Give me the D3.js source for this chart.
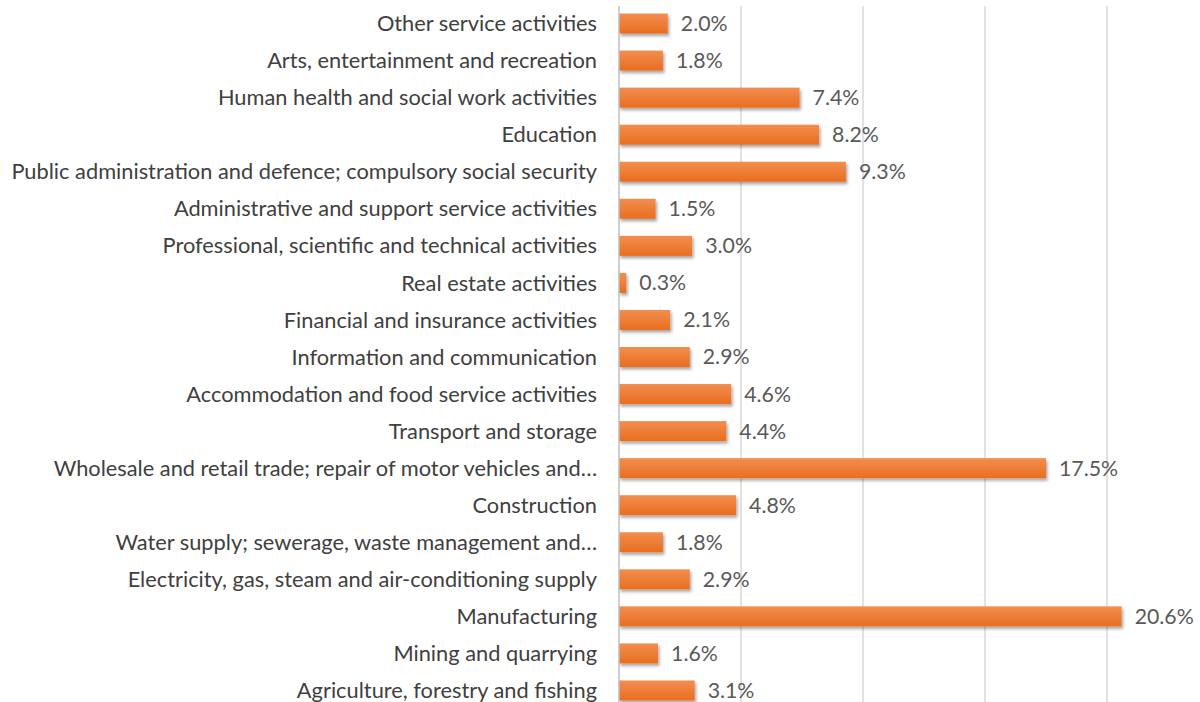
<!DOCTYPE html>
<html>
<head>
<meta charset="utf-8">
<script src="https://cdn.jsdelivr.net/npm/d3@7"></script>
<style>
  body { margin: 0; background: #fff; }
  text { font-family: Lato, "Liberation Sans", sans-serif; }
</style>
</head>
<body>
<div id="chart"></div>
<script>
// categories from top to bottom as shown
var categories = [
  "Other service activities",
  "Arts, entertainment and recreation",
  "Human health and social work activities",
  "Education",
  "Public administration and defence; compulsory social security",
  "Administrative and support service activities",
  "Professional, scientific and technical activities",
  "Real estate activities",
  "Financial and insurance activities",
  "Information and communication",
  "Accommodation and food service activities",
  "Transport and storage",
  "Wholesale and retail trade; repair of motor vehicles and\u2026",
  "Construction",
  "Water supply; sewerage, waste management and\u2026",
  "Electricity, gas, steam and air-conditioning supply",
  "Manufacturing",
  "Mining and quarrying",
  "Agriculture, forestry and fishing"
];
var shares = [2.0, 1.8, 7.4, 8.2, 9.3, 1.5, 3.0, 0.3, 2.1, 2.9, 4.6, 4.4, 17.5, 4.8, 1.8, 2.9, 20.6, 1.6, 3.1];
var gridTicks = [0, 5, 10, 15, 20, 25];

var width = 1200, height = 702;
var margin = { top: 5, bottom: -7, left: 619, right: 0 };

var data = categories.map((c, i) => ({ label: c, value: shares[i] }));

var svg = d3.select("#chart").append("svg")
  .attr("width", width)
  .attr("height", height);

var defs = svg.append("defs");
var grad = defs.append("linearGradient")
  .attr("id", "barGrad")
  .attr("x1", 0).attr("y1", 0).attr("x2", 0).attr("y2", 1);
grad.append("stop").attr("offset", "0%").attr("stop-color", "#f28e4f");
grad.append("stop").attr("offset", "100%").attr("stop-color", "#e96d1f");

var shadow = defs.append("filter").attr("id", "shadow")
  .attr("x", "-5%").attr("y", "-20%").attr("width", "115%").attr("height", "160%");
shadow.append("feDropShadow")
  .attr("dx", 1.5).attr("dy", 2.5).attr("stdDeviation", 1.5)
  .attr("flood-color", "#000").attr("flood-opacity", 0.35);

var xScale = d3.scaleLinear()
  .domain([0, 20])
  .range([margin.left, 1107]);

var yScale = d3.scaleBand()
  .domain(categories)
  .range([margin.top, height - margin.bottom])
  .paddingInner(0.46)
  .paddingOuter(0.23);

// gridlines
svg.append("g")
  .selectAll("line")
  .data(gridTicks.slice(1))
  .join("line")
  .attr("x1", d => xScale(d))
  .attr("x2", d => xScale(d))
  .attr("y1", 6)
  .attr("y2", height)
  .attr("stroke", "#d9d9d9")
  .attr("stroke-width", 1.5);

// bars
svg.append("g")
  .attr("filter", "url(#shadow)")
  .selectAll("rect")
  .data(data)
  .join("rect")
  .attr("x", xScale(0))
  .attr("y", d => yScale(d.label))
  .attr("width", d => xScale(d.value) - xScale(0))
  .attr("height", yScale.bandwidth())
  .attr("fill", "url(#barGrad)");

// axis line
svg.append("line")
  .attr("x1", xScale(0)).attr("x2", xScale(0))
  .attr("y1", 6).attr("y2", height)
  .attr("stroke", "#bfbfbf")
  .attr("stroke-width", 1.5);

// category labels
svg.append("g")
  .selectAll("text")
  .data(data)
  .join("text")
  .attr("x", 597)
  .attr("y", d => yScale(d.label) + yScale.bandwidth() / 2)
  .attr("dy", "0.35em")
  .attr("text-anchor", "end")
  .attr("fill", "#404040")
  .attr("font-size", 21.8)
  .text(d => d.label);

// value labels
svg.append("g")
  .selectAll("text")
  .data(data)
  .join("text")
  .attr("x", d => xScale(d.value) + 13)
  .attr("y", d => yScale(d.label) + yScale.bandwidth() / 2)
  .attr("dy", "0.35em")
  .attr("fill", "#595959")
  .attr("font-size", 21.3)
  .text(d => d.value.toFixed(1) + "%");
</script>
</body>
</html>
